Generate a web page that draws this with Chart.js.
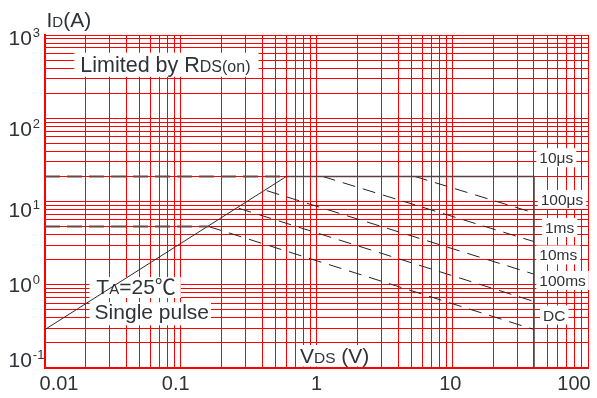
<!DOCTYPE html>
<html>
<head>
<meta charset="utf-8">
<script src="https://cdn.jsdelivr.net/npm/chart.js@4.4.1/dist/chart.umd.min.js"></script>
<style>
  body { margin: 0; background: #fff; }
  #wrap { width: 597px; height: 398px; }
</style>
</head>
<body>
<div id="wrap"><canvas id="soa" width="597" height="398"></canvas></div>
<script>
// axis ticks
const vdsTicks = [0.01, 0.1, 1, 10, 100];
const vdsTickLabels = ["0.01", "0.1", "1", "10", "100"];
const idTicks = [1000, 100, 10, 1, 0.1];
const idTickExps = ["3", "2", "1", "0", "-1"];

// RDS(on) limit and the outer edge (10us pulse / VDS max)
const rdsV = [0.01, 0.6];
const rdsI = [0.29, 20];
const edgeV = [0.6, 40, 40];
const edgeI = [20, 20, 0.1];

// dashed current limits (pulsed / continuous)
const idPulseV = [0.01, 0.6];
const idPulseI = [20, 20];
const idDcV = [0.01, 0.161];
const idDcI = [5, 5];

// pulse width curves
const pulseNames = ["100μs", "1ms", "10ms", "100ms", "DC"];
const pulseStartV = [5.3, 1.11, 0.43, 0.267, 0.161];
const pulseStartI = [20, 20, 13.5, 8.3, 5];
const pulseEndV = [40, 40, 40, 40, 40];
const pulseEndI = [7.3, 3.3, 1.34, 0.63, 0.29];

const curveLabels = ["10μs", "100μs", "1ms", "10ms", "100ms", "DC"];

const FONT = '"Liberation Sans", Arial, "Noto Sans CJK SC", sans-serif';
const CJK = '"Noto Sans CJK SC", sans-serif';
const INK = "#2f3237";
const GRID = "#ff0000";

// where the text sits (data units for things inside the plot)
const curveLabelV = [43.8, 44.8, 48.2, 43.8, 43.8, 46.6];
const curveLabelI = [28.8, 9.08, 4.18, 1.96, 0.966, 0.372];
const xLabelNudge = [14, -5, 0, -2, -14];
const yLabelNudge = [10, 18, 15, 7, -1];

function logTicks(min, max) {
  const out = [];
  for (let e = Math.round(Math.log10(min)); Math.pow(10, e) <= max * 1.0001; e++) {
    for (let m = 1; m <= 9; m++) {
      const v = +(m * Math.pow(10, e)).toPrecision(3);
      if (v >= min * 0.9999 && v <= max * 1.0001) out.push({ value: v });
    }
  }
  return out;
}

const pts = (vs, is) => vs.map((v, k) => ({ x: v, y: is[k] }));

// parts: [text, size, family?]
function richWidth(ctx, parts) {
  let w = 0;
  parts.forEach(([t, size, fam]) => {
    ctx.font = size + "px " + (fam || FONT);
    w += ctx.measureText(t).width;
  });
  return w;
}

function rich(ctx, parts, x, base) {
  let cx = x;
  parts.forEach(([t, size, fam]) => {
    ctx.font = size + "px " + (fam || FONT);
    ctx.fillText(t, cx, base);
    cx += ctx.measureText(t).width;
  });
}

// white box behind text, pad = [left, top, right, bottom]
function boxText(ctx, parts, x, base, pad) {
  const w = richWidth(ctx, parts);
  ctx.fillStyle = "#fff";
  ctx.fillRect(x - pad[0], base - pad[1], w + pad[0] + pad[2], pad[1] + pad[3]);
  ctx.fillStyle = INK;
  ctx.textAlign = "left";
  ctx.textBaseline = "alphabetic";
  rich(ctx, parts, x, base);
}

const decor = {
  id: "decor",
  beforeDatasetsDraw(chart) {
    const { ctx, chartArea: a, scales: { x, y } } = chart;
    ctx.save();
    boxText(ctx, [["Limited by R", 21.5], ["DS(on)", 16]],
      x.getPixelForValue(0.0182), y.getPixelForValue(362), [6, 19, 8, 5]);
    boxText(ctx, [["T", 21], ["A", 15], ["=25", 21], ["℃", 21, CJK]],
      x.getPixelForValue(0.0239), y.getPixelForValue(0.774), [7, 17, 5, 4]);
    boxText(ctx, [["Single pulse", 21]],
      x.getPixelForValue(0.0232), y.getPixelForValue(0.385), [5, 17, 2, 6]);
    curveLabels.forEach((t, k) => {
      boxText(ctx, [[t, 15.5]], x.getPixelForValue(curveLabelV[k]),
        y.getPixelForValue(curveLabelI[k]), [3, 15, 3, 4]);
    });
    // x axis title sits inside the plot
    const vParts = [["V", 21], ["DS", 15.5], [" (V)", 21]];
    const vx = a.left + 255, vb = a.bottom - 5;
    const vw = richWidth(ctx, vParts);
    ctx.fillStyle = "#fff";
    ctx.fillRect(vx - 3, vb - 18, vw + 12, a.bottom - 1.5 - (vb - 18));
    ctx.fillStyle = INK;
    rich(ctx, vParts, vx, vb);
    ctx.restore();
  },
  afterDraw(chart) {
    const { ctx, chartArea: a, scales: { x, y } } = chart;
    ctx.save();
    ctx.fillStyle = INK;
    ctx.textBaseline = "alphabetic";
    rich(ctx, [["I", 21], ["D", 15], ["(A)", 21]], a.left + 1.5, a.top - 8.5);
    ctx.font = "20px " + FONT;
    ctx.textAlign = "center";
    vdsTicks.forEach((v, k) => {
      ctx.fillText(vdsTickLabels[k], x.getPixelForValue(v) + xLabelNudge[k], a.bottom + 22);
    });
    ctx.textAlign = "left";
    idTicks.forEach((v, k) => {
      const b = y.getPixelForValue(v) + yLabelNudge[k];
      ctx.font = "21px " + FONT;
      ctx.fillText("10", a.left - 36.5, b);
      const w = ctx.measureText("10").width;
      ctx.font = "13px " + FONT;
      ctx.fillText(idTickExps[k], a.left - 36.5 + w + 1, b - 8);
    });
    ctx.restore();
  }
};

const line = (data, color, width, dash) => ({
  data, borderColor: color, borderWidth: width, borderDash: dash || [],
  showLine: true, pointRadius: 0, fill: false, tension: 0
});

const datasets = [
  line(pts(idPulseV, idPulseI), "#6e4444", 2, [15, 7]),
  line(pts(idDcV, idDcI), "#6e4444", 2, [15, 7]),
  line(pts(rdsV, rdsI), "#2b2b2b", 1),
  line(pts(edgeV, edgeI), "#5b3f3f", 1.6),
  ...pulseNames.map((n, k) => line(
    [{ x: pulseStartV[k], y: pulseStartI[k] }, { x: pulseEndV[k], y: pulseEndI[k] }],
    "#222", 1, [13, 8]))
];

const axis = (min, max) => ({
  type: "logarithmic", min, max,
  afterBuildTicks: s => { s.ticks = logTicks(min, max); },
  ticks: { display: false },
  grid: { color: GRID, lineWidth: 1, drawTicks: false },
  border: { color: GRID, width: 2 }
});

new Chart(document.getElementById("soa"), {
  type: "scatter",
  data: { datasets },
  options: {
    responsive: false,
    animation: false,
    devicePixelRatio: 1,
    layout: { padding: { left: 45, right: 9, top: 35, bottom: 30 } },
    scales: { x: axis(0.01, 100), y: axis(0.1, 1000) },
    plugins: { legend: { display: false }, tooltip: { enabled: false } }
  },
  plugins: [decor]
});
</script>
</body>
</html>
